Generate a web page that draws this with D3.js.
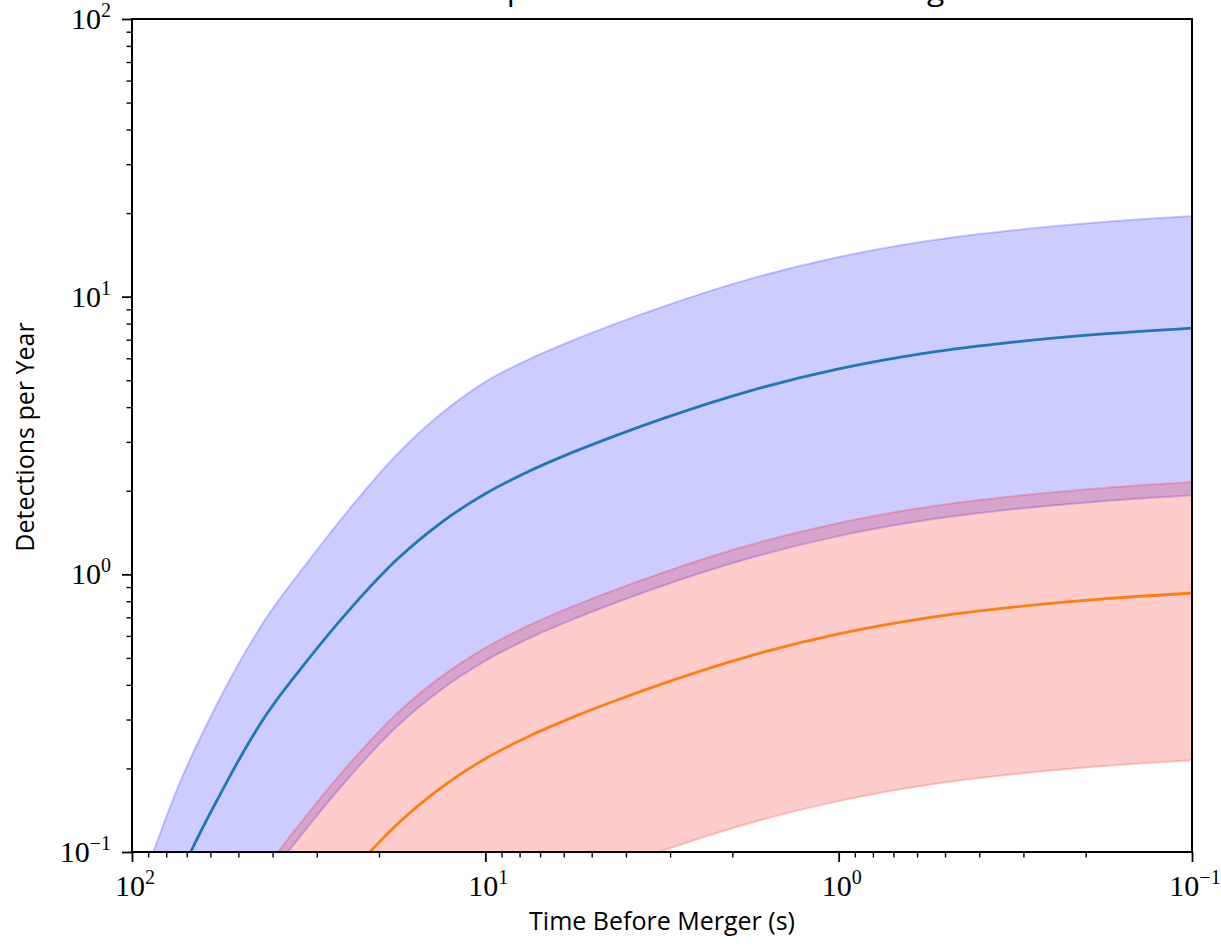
<!DOCTYPE html>
<html><head><meta charset="utf-8">
<script src="https://cdn.jsdelivr.net/npm/d3@7"></script>
<style>body{margin:0;background:#fff}svg{display:block}</style>
</head><body>
<script>
// Time before merger (s)
const times = [100, 87, 75, 56.2, 42.2, 31.6, 23.7, 17.8, 13.3, 10, 7.5, 5.62, 4.22, 3.16, 1.78, 1, 0.562, 0.316, 0.178, 0.1];
// Series A (blue): median and band
const blueMid  = [0.026, 0.0455, 0.0761, 0.162, 0.305, 0.497, 0.770, 1.13, 1.54, 1.95, 2.355, 2.76, 3.18, 3.63, 4.58, 5.49, 6.27, 6.87, 7.34, 7.71];
const blueHigh = [0.06, 0.1, 0.165, 0.36, 0.68, 1.12, 1.78, 2.7, 3.8, 4.934, 5.958, 6.983, 8.045, 9.184, 11.59, 13.89, 15.86, 17.38, 18.57, 19.51];
const blueLow  = [0.0065, 0.0114, 0.019, 0.0405, 0.0763, 0.1243, 0.1925, 0.283, 0.385, 0.488, 0.589, 0.69, 0.795, 0.908, 1.145, 1.373, 1.568, 1.718, 1.835, 1.928];
// Series B (orange): median and band
const orangeMid = [0.00289, 0.00506, 0.00846, 0.018, 0.0339, 0.0552, 0.0856, 0.1256, 0.171, 0.2167, 0.2617, 0.3067, 0.3533, 0.4033, 0.5089, 0.61, 0.6967, 0.7633, 0.8156, 0.8567];
const redHigh = [0.00725, 0.0127, 0.0212, 0.0452, 0.0851, 0.1386, 0.2149, 0.3153, 0.4292, 0.5439, 0.6569, 0.7698, 0.8868, 1.0123, 1.2773, 1.5311, 1.7487, 1.9159, 2.0472, 2.1503];
const redLow  = [0.00072, 0.00126, 0.0021, 0.0045, 0.0085, 0.0138, 0.0214, 0.0314, 0.0428, 0.0542, 0.0654, 0.0767, 0.0883, 0.1008, 0.1272, 0.1525, 0.1742, 0.1908, 0.2039, 0.2142];
// Axis ticks
const xMajor = [100, 10, 1, 0.1];
const xMajorExp = ["2", "1", "0", "\u22121"];
const yMajor = [0.1, 1, 10, 100];
const yMajorExp = ["\u22121", "0", "1", "2"];
const titleText = "Detections per Year vs Time Before Merger";
const xLabel = "Time Before Merger (s)";
const yLabel = "Detections per Year";

const W = 1221, H = 948;
const L = 132, R = 1192, T = 19, B = 852;
const svg = d3.select("body").append("svg").attr("width", W).attr("height", H);

const x = d3.scaleLog().domain([100, 0.1]).range([L, R]);
const y = d3.scaleLog().domain([0.1, 100]).range([B, T]);

svg.append("defs").append("clipPath").attr("id", "clip")
  .append("rect").attr("x", L).attr("y", T).attr("width", R - L).attr("height", B - T);

const g = svg.append("g").attr("clip-path", "url(#clip)");

const mk = (lo, hi) => times.map((t, i) => ({t, lo: lo[i], hi: hi[i]}));
const area = d3.area().x(d => x(d.t)).y0(d => y(d.lo)).y1(d => y(d.hi)).curve(d3.curveMonotoneX);
const line = d3.line().x(d => x(d.t)).y(d => y(d.v)).curve(d3.curveMonotoneX);

g.append("path").attr("d", area(mk(blueLow, blueHigh)))
  .attr("fill", "blue").attr("fill-opacity", 0.2)
  .attr("stroke", "blue").attr("stroke-opacity", 0.2).attr("stroke-width", 2);
g.append("path").attr("d", area(mk(redLow, redHigh)))
  .attr("fill", "red").attr("fill-opacity", 0.2)
  .attr("stroke", "red").attr("stroke-opacity", 0.2).attr("stroke-width", 2);
g.append("path").attr("d", line(times.map((t, i) => ({t, v: blueMid[i]}))))
  .attr("fill", "none").attr("stroke", "#1f77b4").attr("stroke-width", 2.8);
g.append("path").attr("d", line(times.map((t, i) => ({t, v: orangeMid[i]}))))
  .attr("fill", "none").attr("stroke", "#ff7f0e").attr("stroke-width", 2.8);

// minor ticks
const minors = [];
[0.1, 1, 10].forEach(d => { for (let k = 2; k <= 9; k++) minors.push(d * k); });

const axStyle = sel => { sel.select(".domain").remove(); sel.selectAll("line").attr("stroke", "#000").attr("stroke-width", 1.8); };
svg.append("g").attr("transform", `translate(0,${B})`)
  .call(d3.axisBottom(x).tickValues(xMajor).tickSize(10).tickFormat("")).call(axStyle);
svg.append("g").attr("transform", `translate(0,${B})`)
  .call(d3.axisBottom(x).tickValues(minors).tickSize(5.5).tickFormat("")).call(axStyle)
  .selectAll("line").attr("stroke-width", 1.4);
svg.append("g").attr("transform", `translate(${L},0)`)
  .call(d3.axisLeft(y).tickValues(yMajor).tickSize(10).tickFormat("")).call(axStyle);
svg.append("g").attr("transform", `translate(${L},0)`)
  .call(d3.axisLeft(y).tickValues(minors).tickSize(5.5).tickFormat("")).call(axStyle)
  .selectAll("line").attr("stroke-width", 1.4);

svg.append("rect").attr("x", L).attr("y", T).attr("width", R - L).attr("height", B - T)
  .attr("fill", "none").attr("stroke", "#000").attr("stroke-width", 2);

const serif = "'Liberation Serif', 'DejaVu Serif', serif";
const sans = "'Open Sans', Lato, 'DejaVu Sans', sans-serif";

function powLabel(sel, exp) {
  sel.append("tspan").text("10");
  sel.append("tspan").attr("dy", -12).attr("font-size", 20).text(exp);
}
xMajor.forEach((v, i) => {
  const t = svg.append("text").attr("x", x(v) + 3).attr("y", 896)
    .attr("text-anchor", "middle").attr("font-family", serif).attr("font-size", 30);
  powLabel(t, xMajorExp[i]);
});
yMajor.forEach((v, i) => {
  const t = svg.append("text").attr("x", 111).attr("y", y(v) + 10)
    .attr("text-anchor", "end").attr("font-family", serif).attr("font-size", 30);
  powLabel(t, yMajorExp[i]);
});

svg.append("text").attr("x", 662).attr("y", 930).attr("text-anchor", "middle")
  .attr("font-family", sans).attr("font-size", 25).text(xLabel);
svg.append("text").attr("transform", `translate(34,437) rotate(-90)`).attr("text-anchor", "middle")
  .attr("font-family", sans).attr("font-size", 25).text(yLabel);
svg.append("text").attr("x", 340).attr("y", 0).attr("text-anchor", "start")
  .attr("textLength", 635).attr("lengthAdjust", "spacingAndGlyphs")
  .attr("font-family", sans).attr("font-size", 28).text(titleText);
</script>
</body></html>
